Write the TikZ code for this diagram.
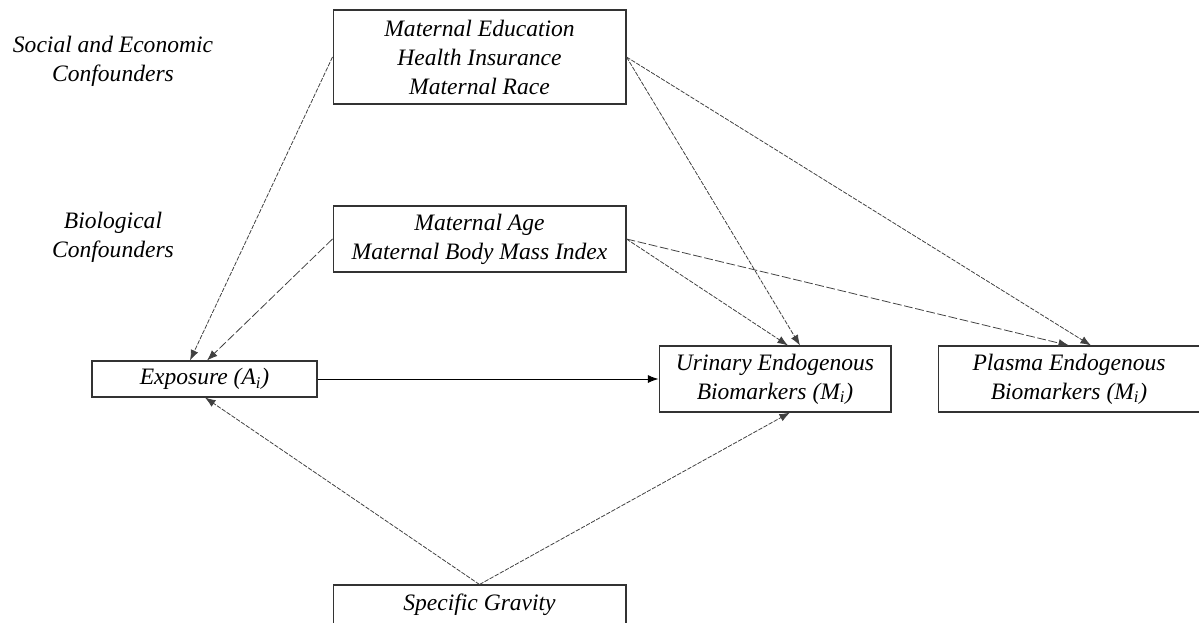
\documentclass[tikz,border=0pt]{standalone}
\usepackage{fontspec}
\setmainfont{Liberation Serif}
\usetikzlibrary{arrows.meta}
\begin{document}
\begin{tikzpicture}[x=0.02cm,y=-0.02cm,
    font=\fontsize{13.4}{16.5}\selectfont\itshape,
    box/.style={draw=black!80,line width=0.6pt,align=center,inner sep=0pt},
    lbl/.style={align=center,inner sep=0pt},
    link/.style={line width=0.45pt,black!75,dash pattern=on 2.5pt off 0.8pt,
                 -{Latex[length=6pt,width=4.5pt]}},
    longdash/.style={link,dash pattern=on 5pt off 1.5pt}]
    \useasboundingbox (0,0) rectangle (1199,622);
    % confounder groups
    \node[lbl] (seslbl) at (113,61)  {Social and Economic\\Confounders};
    \node[lbl] (biolbl) at (113,237) {Biological\\Confounders};
    \node[box,minimum width=5.86cm,minimum height=1.88cm] (ses) at (479.5,57)
      {Maternal Education\\Health Insurance\\Maternal Race};
    \node[box,minimum width=5.86cm,minimum height=1.32cm] (bio) at (479.5,239)
      {Maternal Age\\Maternal Body Mass Index};
    % exposure, mediators, specific gravity
    \node[box,minimum width=4.5cm,minimum height=0.72cm] (expo) at (204.5,379)
      {Exposure (A\textsubscript{i})};
    \node[box,minimum width=4.64cm,minimum height=1.32cm] (urine) at (775,379)
      {Urinary Endogenous\\Biomarkers (M\textsubscript{i})};
    \node[box,minimum width=5.24cm,minimum height=1.32cm] (plasma) at (1069,379)
      {Plasma Endogenous\\Biomarkers (M\textsubscript{i})};
    \node[box,minimum width=5.86cm,minimum height=0.8cm] (sg) at (479.5,605)
      {Specific Gravity};
    \draw[link] (ses.west) -- ([xshift=-0.29cm]expo.north);
    \draw[longdash] (bio.west) -- ([xshift=0.05cm]expo.north);
    \draw[link] (ses.east) -- ([xshift=0.5cm]urine.north);
    \draw[link] (ses.east) -- ([xshift=0.44cm]plasma.north);
    \draw[link] (bio.east) -- ([xshift=0.26cm]urine.north);
    \draw[longdash] (bio.east) -- (plasma.north);
    \draw[-{Latex[length=6pt,width=4.5pt]},line width=0.5pt] (expo.east) -- (urine.west);
    \draw[link] (sg.north) -- ([xshift=0.01cm]expo.south);
    \draw[link] (sg.north) -- ([xshift=0.3cm]urine.south);
\end{tikzpicture}
\end{document}
